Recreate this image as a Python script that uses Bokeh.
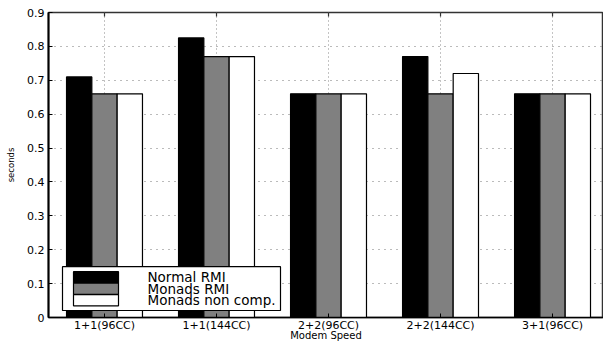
from bokeh.plotting import figure
from bokeh.models import Range1d, FixedTicker, PrintfTickFormatter
from bokeh.core.properties import value
from bokeh.embed import file_html
from bokeh.resources import INLINE
import numpy as np

categories = ["1+1(96CC)", "1+1(144CC)", "2+2(96CC)", "2+2(144CC)", "3+1(96CC)"]
normal_rmi = [0.71, 0.825, 0.66, 0.77, 0.66]
monads_rmi = [0.66, 0.77, 0.66, 0.66, 0.66]
monads_non_comp = [0.66, 0.77, 0.66, 0.72, 0.66]
series_names = ["Normal RMI", "Monads RMI", "Monads non comp."]
series_colors = ["black", "#808080", "white"]
y_ticks = [0, 0.1, 0.2, 0.3, 0.4, 0.5, 0.6, 0.7, 0.8, 0.9]
x_title = "Modem Speed"
y_title = "seconds"

FONT = "DejaVu Sans"

# frame geometry (pixels) and ranges
W, H = 603, 343
FL, FR, FT, FB = 48, 603, 12, 318
X0, X1 = 0.5, 5.455
Y0, Y1 = 0.0, 0.9

def px2x(px):
    return X0 + (px - FL) * (X1 - X0) / (FR - FL)

def py2y(py):
    return Y0 + (FB - py) * (Y1 - Y0) / (FB - FT)

x = np.arange(1, len(categories) + 1)

p = figure(width=W, height=H, output_backend="svg", toolbar_location=None,
           x_range=Range1d(X0, X1), y_range=Range1d(Y0, Y1),
           min_border_left=FL, min_border_right=0, min_border_top=FT, min_border_bottom=H - FB)
p.background_fill_color = "white"
p.border_fill_color = "white"
p.outline_line_color = "#333333"
p.outline_line_width = 1.5

bw = 0.226
p.vbar(x=x - bw, top=normal_rmi, width=bw, fill_color=series_colors[0], line_color="black", line_width=1.2)
p.vbar(x=x, top=monads_rmi, width=bw, fill_color=series_colors[1], line_color="black", line_width=1.2)
p.vbar(x=x + bw, top=monads_non_comp, width=bw, fill_color=series_colors[2], line_color="black", line_width=1.2)

# top tick marks (inward)
p.segment(x0=x, x1=x, y0=[Y1] * len(x), y1=[py2y(FT + 4)] * len(x), line_color="#333333", line_width=1.2)

xa = p.xaxis[0]
xa.ticker = FixedTicker(ticks=list(x))
xa.major_label_overrides = {int(i): c for i, c in zip(x, categories)}
xa.major_tick_in = 4
xa.major_tick_out = 0
xa.minor_tick_line_color = None
xa.axis_line_color = "black"
xa.axis_line_width = 1.5
xa.major_label_text_font = FONT
xa.major_label_text_font_size = "11px"
xa.major_label_text_color = "black"
xa.major_label_standoff = 1
xa.axis_label = x_title
xa.axis_label_text_font = FONT
xa.axis_label_text_font_size = "10px"
xa.axis_label_text_color = "black"
xa.axis_label_text_font_style = "normal"
xa.axis_label_standoff = -5

ya = p.yaxis[0]
ya.ticker = FixedTicker(ticks=y_ticks)
ya.formatter = PrintfTickFormatter(format="%g")
ya.major_tick_in = 4
ya.major_tick_out = 0
ya.minor_tick_line_color = None
ya.axis_line_color = "black"
ya.axis_line_width = 2
ya.major_label_text_font = FONT
ya.major_label_text_font_size = "11px"
ya.major_label_text_color = "black"
ya.major_label_standoff = 4
ya.axis_label = y_title
ya.axis_label_text_font = FONT
ya.axis_label_text_font_size = "8.5px"
ya.axis_label_text_color = "black"
ya.axis_label_text_font_style = "normal"
ya.axis_label_standoff = 8

p.xgrid.ticker = FixedTicker(ticks=list(x))
p.xgrid.grid_line_color = "#888888"
p.xgrid.grid_line_dash = "1 3"
p.ygrid.ticker = FixedTicker(ticks=y_ticks)
p.ygrid.grid_line_color = "#777777"
p.ygrid.grid_line_dash = "1 5"

# legend drawn by hand (pixel layout converted through the plot's ranges)
p.quad(left=px2x(62), right=px2x(280), top=py2y(267), bottom=py2y(311),
       fill_color="white", line_color="black", line_width=1.2)
row_tops = [272, 283.5, 295]
row_h = 11.3
p.quad(left=[px2x(73)] * 3, right=[px2x(118)] * 3,
       top=[py2y(t) for t in row_tops], bottom=[py2y(t + row_h) for t in row_tops],
       fill_color=series_colors, line_color="black", line_width=1.2)
p.text(x=[px2x(147)] * 3, y=[py2y(t + row_h / 2) for t in row_tops], text=series_names,
       text_font=value(FONT), text_font_size="13.5px", text_baseline="middle",
       text_align="left", text_color="black")

open("out.html", "w").write(file_html(p, INLINE))
